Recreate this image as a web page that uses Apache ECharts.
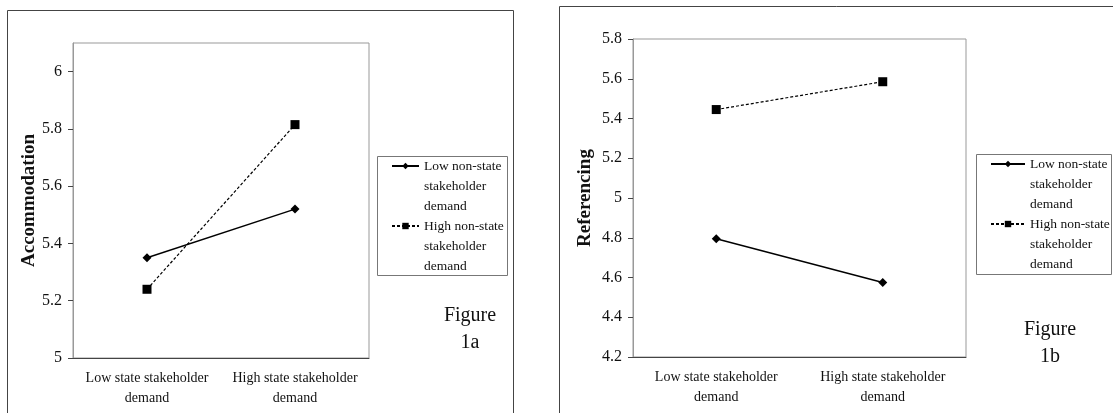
<!DOCTYPE html>
<html>
<head>
<meta charset="utf-8">
<script src="https://cdn.jsdelivr.net/npm/echarts@6/dist/echarts.min.js"></script>
<style>
  html, body { margin: 0; padding: 0; background: #fff; }
  #main { width: 1113px; height: 413px; }
</style>
</head>
<body>
<div id="main"></div>
<script>
// categories (x axis, both panels)
const stateDemand = ['Low state stakeholder\ndemand', 'High state stakeholder\ndemand'];
// series names
const lowName = 'Low non-state stakeholder demand';
const highName = 'High non-state stakeholder demand';
// Figure 1a: Accommodation
const accLow = [5.35, 5.52];
const accHigh = [5.24, 5.815];
const accTicks = [5, 5.2, 5.4, 5.6, 5.8, 6];
// Figure 1b: Referencing
const refLow = [4.795, 4.575];
const refHigh = [5.445, 5.585];

const serif = 'Liberation Serif';
const ink = '#111';

// legend text wrapped like the original (two empty lines keep the icon on line one)
const legendText = {};
legendText[lowName] = '\n\nLow non-state\nstakeholder\ndemand';
legendText[highName] = '\n\nHigh non-state\nstakeholder\ndemand';

const makeX = (gridIndex) => ({
    type: 'category',
    gridIndex: gridIndex,
    data: stateDemand,
    boundaryGap: true,
    axisLine: { lineStyle: { color: '#444', width: 1 } },
    axisTick: { length: 5, lineStyle: { color: '#444' } },
    axisLabel: { interval: 0, color: ink, fontFamily: serif, fontSize: 14, lineHeight: 20, margin: 10 },
    splitLine: { show: false }
});

const makeY = (gridIndex, name, min, max, nameGap) => ({
    type: 'value',
    gridIndex: gridIndex,
    min: min,
    max: max,
    interval: 0.2,
    name: name,
    nameLocation: 'middle',
    nameGap: nameGap,
    nameTextStyle: { color: ink, fontFamily: serif, fontWeight: 'bold', fontSize: 19 },
    axisLine: { show: true, lineStyle: { color: '#999' } },
    axisTick: { show: true, length: 5, lineStyle: { color: '#444' } },
    axisLabel: { color: ink, fontFamily: serif, fontSize: 16, margin: 11 },
    splitLine: { show: false }
});

const lineSeries = (name, data, idx, dashed) => ({
    name: name,
    type: 'line',
    xAxisIndex: idx,
    yAxisIndex: idx,
    data: data,
    symbol: dashed ? 'rect' : 'diamond',
    symbolSize: dashed ? 9 : 9,
    color: '#000',
    itemStyle: { color: '#000' },
    lineStyle: { color: '#000', width: dashed ? 1.2 : 1.4, type: dashed ? [3, 2] : 'solid' },
    animation: false
});

const makeLegend = (left, top, itemWidth) => ({
    orient: 'vertical',
    left: left,
    top: top,
    padding: 0,
    itemGap: -40,
    itemWidth: itemWidth,
    itemHeight: 8,
    data: [lowName, highName],
    formatter: (n) => legendText[n],
    textStyle: { color: ink, fontFamily: serif, fontSize: 13.5, lineHeight: 20 }
});

const chart = echarts.init(document.getElementById('main'), null, { renderer: 'canvas' });

const option = {
    backgroundColor: '#fff',
    animation: false,
    grid: [
        { left: 73, top: 43, width: 296, height: 315, show: true, borderColor: '#999', borderWidth: 1 },
        { left: 633, top: 39, width: 333, height: 318, show: true, borderColor: '#999', borderWidth: 1 }
    ],
    xAxis: [makeX(0), makeX(1)],
    yAxis: [
        (() => {
            const y = makeY(0, 'Accommodation', 5, 6.1, 34);
            y.axisLabel.customValues = accTicks;
            y.axisTick.customValues = accTicks;
            return y;
        })(),
        makeY(1, 'Referencing', 4.2, 5.8, 38)
    ],
    legend: [makeLegend(391, 116, 27), makeLegend(990, 114, 34)],
    series: [
        lineSeries(lowName, accLow, 0, false),
        lineSeries(highName, accHigh, 0, true),
        lineSeries(lowName, refLow, 1, false),
        lineSeries(highName, refHigh, 1, true)
    ],
    graphic: [
        // outer panel frames
        { type: 'rect', shape: { x: 7.5, y: 10.5, width: 506, height: 430 }, style: { fill: 'none', stroke: '#444', lineWidth: 1 }, silent: true },
        { type: 'rect', shape: { x: 559.5, y: 6.5, width: 600, height: 430 }, style: { fill: 'none', stroke: '#444', lineWidth: 1 }, silent: true },
        // legend frames
        { type: 'rect', shape: { x: 377.5, y: 156.5, width: 130, height: 119 }, style: { fill: 'none', stroke: '#777', lineWidth: 1 }, silent: true },
        { type: 'rect', shape: { x: 976.5, y: 154.5, width: 135, height: 120 }, style: { fill: 'none', stroke: '#777', lineWidth: 1 }, silent: true },
        // figure captions
        { type: 'text', x: 470, y: 302, style: { text: 'Figure\n1a', fill: ink, font: '20px "Liberation Serif"', lineHeight: 27, align: 'center' }, silent: true },
        { type: 'text', x: 1050, y: 316, style: { text: 'Figure\n1b', fill: ink, font: '20px "Liberation Serif"', lineHeight: 27, align: 'center' }, silent: true }
    ]
};

chart.setOption(option);
</script>
</body>
</html>
